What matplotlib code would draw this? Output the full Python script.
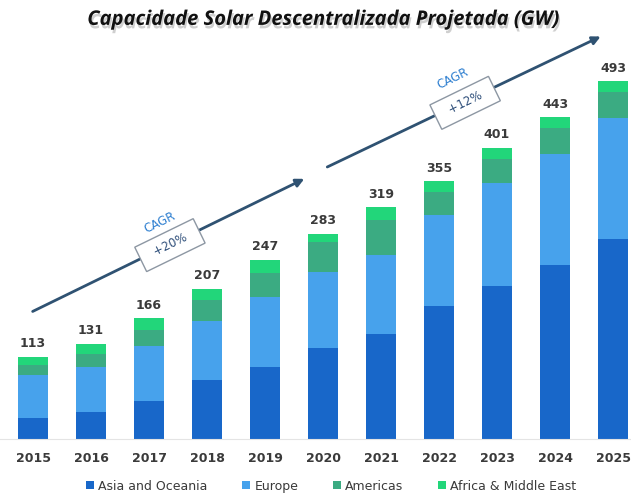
import numpy as np
import matplotlib.pyplot as plt
import matplotlib.patheffects as pe

# Data ########################################################
years = ["2015", "2016", "2017", "2018", "2019", "2020", "2021", "2022", "2023", "2024", "2025"]
asia = [29, 37, 52, 81, 99, 125, 145, 183, 211, 240, 275]
europe = [59, 62, 76, 82, 97, 105, 109, 125, 142, 152, 167]
americas = [14, 18, 22, 29, 33, 41, 48, 32, 33, 36, 36]
africa = [11, 14, 16, 15, 18, 12, 17, 15, 15, 15, 15]
totals = [113, 131, 166, 207, 247, 283, 319, 355, 401, 443, 493]

series_names = ["Asia and Oceania", "Europe", "Americas", "Africa & Middle East"]
colors = ["#1867c9", "#47a2ec", "#3bab82", "#22d67a"]

cagr_labels = ["+20%", "+12%"]

# Plot ########################################################
fig = plt.figure(figsize=(6.31, 4.97), dpi=100)
ax = fig.add_axes([0, 0.1167, 1, 0.7626])

x = np.arange(len(years))
bottom = np.zeros(len(years))
for vals, name, col in zip([asia, europe, americas, africa], series_names, colors):
    ax.bar(x, vals, width=0.52, bottom=bottom, color=col, label=name, zorder=2)
    bottom += np.array(vals)

for xi, tot in zip(x, totals):
    ax.text(xi, tot + 9, str(tot), ha="center", va="bottom", fontsize=9,
            fontweight="bold", color="#3a3a3a")

ax.set_xlim(-0.57, 10.31)
ax.set_ylim(0, 522)
ax.set_xticks(x)
ax.set_xticklabels(years, fontsize=9, fontweight="bold", color="#3a3a3a")
ax.tick_params(axis="x", length=0, pad=9)
ax.set_yticks([])
for s in ["top", "right", "left"]:
    ax.spines[s].set_visible(False)
ax.spines["bottom"].set_color("#e4e4e4")

# CAGR arrows
arrow_col = "#2f5272"
arrows = [((-0.05, 174), (4.72, 360)), ((5.03, 373), (9.83, 556))]
boxes = [(2.36, 267), (7.45, 463)]
cagr_pos = [(2.18, 298), (7.24, 497)]
for (start, end), (bx, by), (cx, cy), lab in zip(arrows, boxes, cagr_pos, cagr_labels):
    ax.annotate("", xy=end, xytext=start, annotation_clip=False,
                arrowprops=dict(arrowstyle="-|>", color=arrow_col, lw=2,
                                mutation_scale=12), zorder=3)
    ax.text(bx, by, "  " + lab + "  ", rotation=26, ha="center", va="center",
            rotation_mode="anchor", fontsize=8.5, color="#2f4f7a", zorder=5,
            bbox=dict(boxstyle="square,pad=0.6", fc="white", ec="#8d97a3", lw=1))
    ax.text(cx, cy, "CAGR", rotation=26, ha="center", va="center",
            rotation_mode="anchor", fontsize=8.5, color="#2e7fd0", zorder=5,
            bbox=dict(boxstyle="square,pad=0.1", fc="white", ec="none"))

fig.text(0.513, 0.96, "Capacidade Solar Descentralizada Projetada (GW)",
         ha="center", va="center", fontsize=14.5, fontweight="bold",
         style="italic", family="Open Sans", color="#111111",
         path_effects=[pe.withSimplePatchShadow(offset=(1, -2.5), shadow_rgbFace="#888888", alpha=0.4)])

leg = fig.legend(loc="center", bbox_to_anchor=(0.525, 0.022), ncol=4, frameon=False,
                 fontsize=9, handlelength=0.6, handleheight=0.6, handletextpad=0.35,
                 columnspacing=2.8)
for t in leg.get_texts():
    t.set_color("#3a3a3a")

plt.savefig("out.png", dpi=100)
